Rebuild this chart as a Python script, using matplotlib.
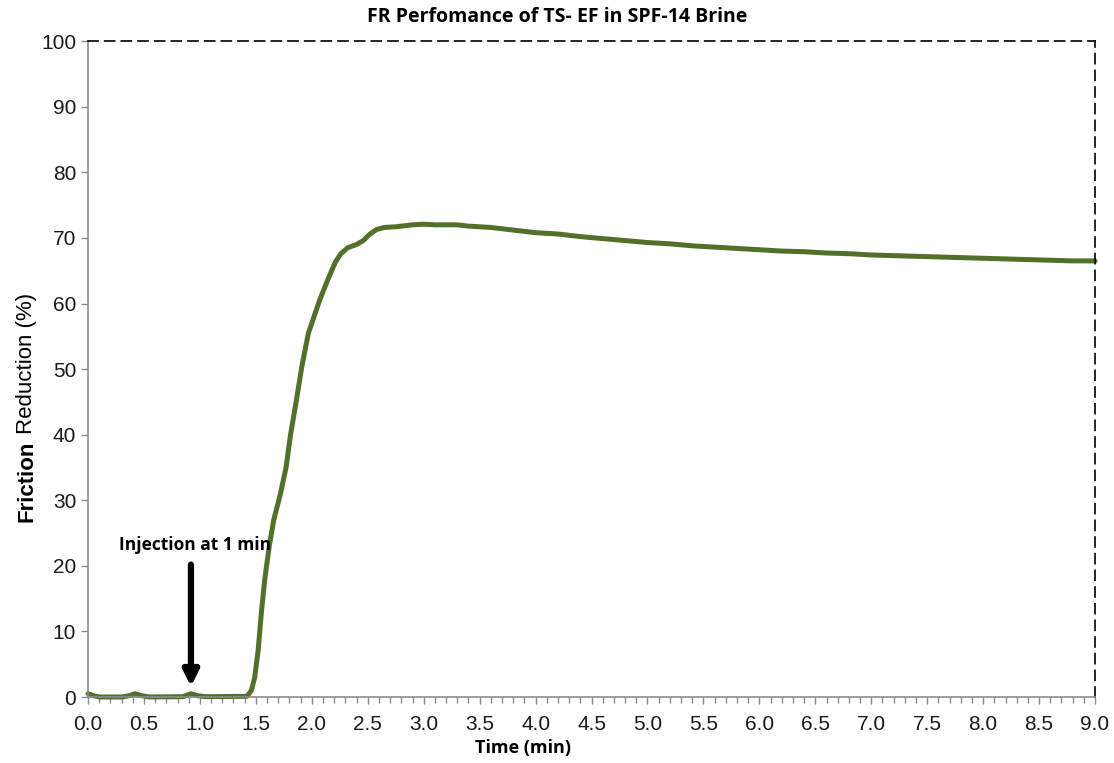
import matplotlib
matplotlib.use("Agg")
import matplotlib.pyplot as plt
from matplotlib.ticker import MultipleLocator, FormatStrFormatter
from matplotlib import font_manager

time_min = [0.0, 0.05, 0.1, 0.3, 0.37, 0.42, 0.48, 0.55, 0.85, 0.92, 0.98, 1.05, 1.42,
            1.46, 1.49, 1.52, 1.55, 1.58, 1.62, 1.66, 1.72, 1.77, 1.81, 1.86, 1.91, 1.97,
            2.03, 2.07, 2.14, 2.21, 2.26, 2.32, 2.40, 2.46, 2.52, 2.58, 2.65, 2.75, 2.9,
            3.0, 3.1, 3.3, 3.4, 3.6, 3.8, 4.0, 4.2, 4.4, 4.6, 4.8, 5.0, 5.2, 5.4, 5.6,
            5.8, 6.0, 6.2, 6.4, 6.6, 6.8, 7.0, 7.2, 7.4, 7.6, 7.8, 8.0, 8.2, 8.4, 8.6,
            8.8, 9.0]
friction_reduction = [0.5, 0.2, 0.0, 0.0, 0.2, 0.5, 0.2, 0.0, 0.05, 0.5, 0.2, 0.05, 0.1,
                      1.0, 3.0, 7.0, 13.0, 18.0, 23.0, 27.0, 31.0, 35.0, 40.0, 45.0, 50.3, 55.5,
                      58.5, 60.5, 63.5, 66.3, 67.6, 68.5, 69.0, 69.6, 70.6, 71.3, 71.6, 71.7, 72.0,
                      72.1, 72.0, 72.0, 71.8, 71.6, 71.2, 70.8, 70.6, 70.2, 69.9, 69.6, 69.3, 69.1,
                      68.8, 68.6, 68.4, 68.2, 68.0, 67.9, 67.7, 67.6, 67.4, 67.3, 67.2, 67.1, 67.0,
                      66.9, 66.8, 66.7, 66.6, 66.5, 66.5]

title = "FR Perfomance of TS- EF in SPF-14 Brine"
xlabel = "Time (min)"
annotation_text = "Injection at 1 min"
injection_time = 0.92

avail = {f.name for f in font_manager.fontManager.ttflist}
narrow = "Liberation Sans Narrow" if "Liberation Sans Narrow" in avail else "Open Sans"
plt.rcParams['font.family'] = ['Liberation Sans', 'DejaVu Sans']

fig = plt.figure(figsize=(11.14, 7.63), dpi=100)
ax = fig.add_axes([0.079, 0.0865, 0.904, 0.8595])

ax.plot(time_min, friction_reduction, color='#53702a', lw=3.6,
        solid_joinstyle='round', solid_capstyle='round', clip_on=False)

ax.set_xlim(0, 9)
ax.set_ylim(0, 100)
ax.xaxis.set_major_locator(MultipleLocator(0.5))
ax.xaxis.set_minor_locator(MultipleLocator(0.1))
ax.yaxis.set_major_locator(MultipleLocator(10))
ax.xaxis.set_major_formatter(FormatStrFormatter('%.1f'))

for s in ['left', 'bottom']:
    ax.spines[s].set_color('#8c8c8c')
    ax.spines[s].set_linewidth(1.2)
for s in ['top', 'right']:
    ax.spines[s].set_color('black')
    ax.spines[s].set_linewidth(1.2)
    ax.spines[s].set_linestyle((0, (6, 4)))

ax.tick_params(axis='both', which='major', direction='out', length=5, width=1,
               color='#8c8c8c', labelsize=15, labelcolor='#1a1a1a')
ax.tick_params(axis='x', which='minor', direction='out', length=4, width=1, color='#8c8c8c')
ax.tick_params(axis='x', which='major', pad=8)

fig.text(0.5, 1 - 17 / 763, title, ha='center', va='center', fontsize=14,
         fontweight='bold', family=[narrow, 'DejaVu Sans'])
fig.text(523 / 1114, 1 - 748 / 763, xlabel, ha='center', va='center', fontsize=13,
         fontweight='bold', family=[narrow, 'DejaVu Sans'])

fig.text(0.024, 1 - 522 / 763, "Friction", rotation=90, ha='center', va='bottom',
         fontsize=16, fontweight='bold')
fig.text(0.024, 1 - 434 / 763, "Reduction (%)", rotation=90, ha='center', va='bottom',
         fontsize=16)

ax.annotate("", xy=(injection_time, 1.6), xytext=(injection_time, 20.2),
            arrowprops=dict(arrowstyle='-|>,head_width=0.45,head_length=0.9',
                            color='black', lw=4.5, shrinkA=0, shrinkB=0))
ax.text(0.96, 23.2, annotation_text, ha='center', va='center', fontsize=12.5,
        fontweight='bold', family=[narrow, 'DejaVu Sans'])

fig.savefig("out.png", dpi=100, facecolor='white')
